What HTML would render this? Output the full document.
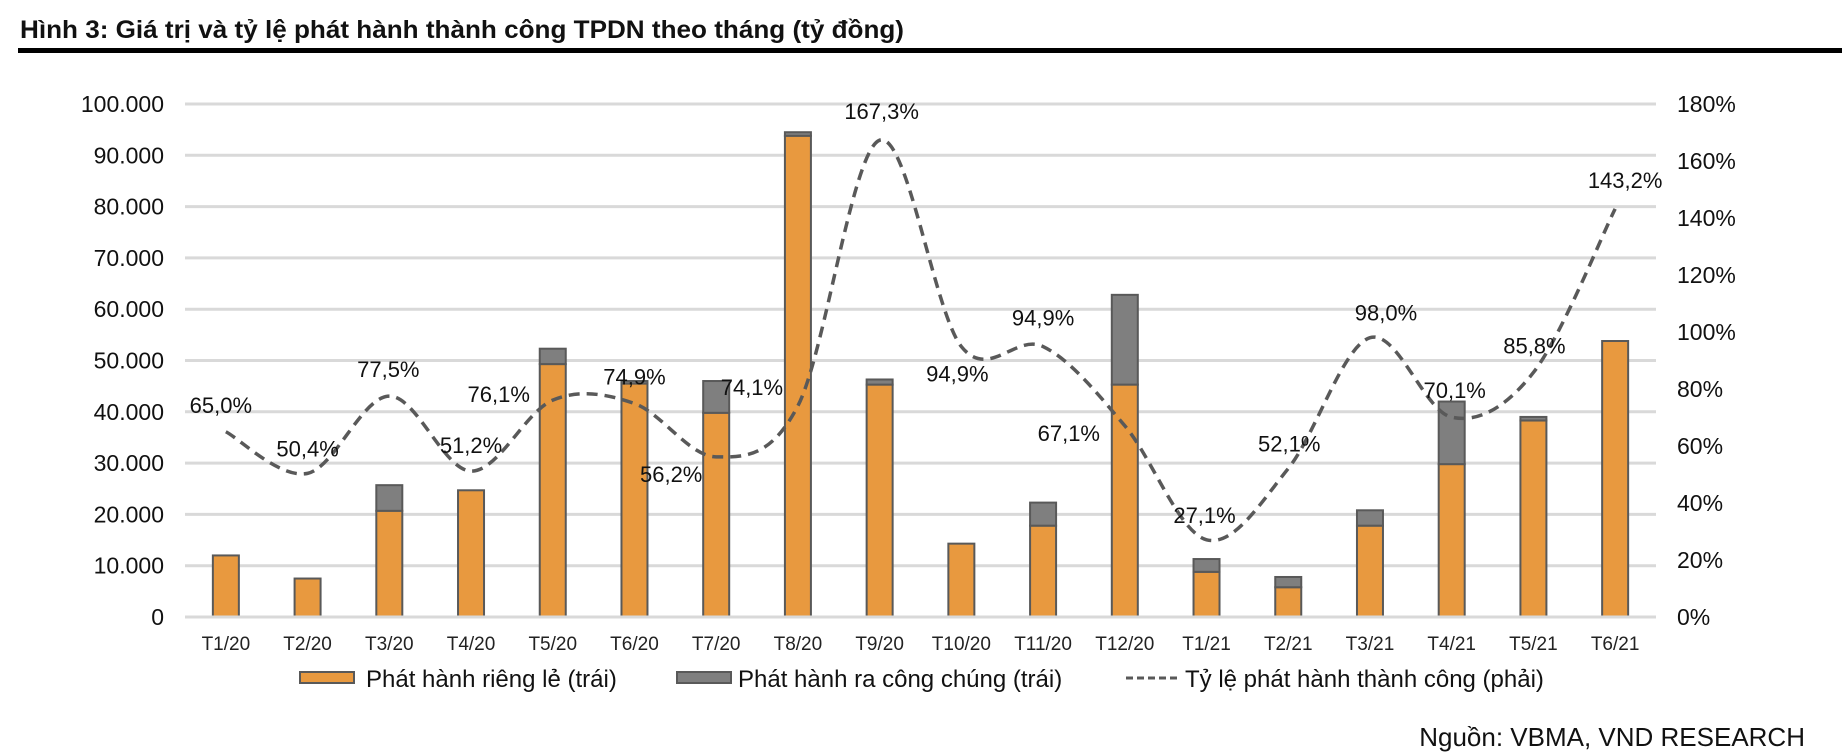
<!DOCTYPE html>
<html><head><meta charset="utf-8"><style>
body{margin:0;background:#fff;}
svg{display:block;font-family:"Liberation Sans",sans-serif;}
</style></head><body>
<svg id="chart" width="1842" height="754" viewBox="0 0 1842 754" xmlns="http://www.w3.org/2000/svg">
<text x="20" y="38" font-size="25" font-weight="bold" fill="#111" textLength="884" lengthAdjust="spacingAndGlyphs">Hình 3: Giá trị và tỷ lệ phát hành thành công TPDN theo tháng (tỷ đồng)</text>
<rect x="18" y="48" width="1824" height="5" fill="#000"/>
<g id="grid"></g><g id="bars"></g><g id="line"></g><g id="labels"></g><g id="axes"></g>
<g>
 <rect x="300" y="672" width="54" height="11" fill="#E8993F" stroke="#595959" stroke-width="2"/>
 <text x="366" y="687" font-size="24" fill="#111">Phát hành riêng lẻ (trái)</text>
 <rect x="677" y="672" width="54" height="11" fill="#7F7F7F" stroke="#595959" stroke-width="2"/>
 <text x="738" y="687" font-size="24" fill="#111">Phát hành ra công chúng (trái)</text>
 <line x1="1126" y1="678" x2="1178" y2="678" stroke="#595959" stroke-width="3" stroke-dasharray="7,4"/>
 <text x="1185" y="687" font-size="24" fill="#111">Tỷ lệ phát hành thành công (phải)</text>
</g>
<text x="1805" y="746" font-size="26" fill="#111" text-anchor="end">Nguồn: VBMA, VND RESEARCH</text>
</svg>
<script>
const categories=["T1/20","T2/20","T3/20","T4/20","T5/20","T6/20","T7/20","T8/20","T9/20","T10/20","T11/20","T12/20","T1/21","T2/21","T3/21","T4/21","T5/21","T6/21"];
const privateVals=[12000,7500,20700,24700,49300,45500,39800,93800,45300,14300,17800,45300,8800,5800,17800,29800,38300,53800];
const publicVals=[0,0,5000,0,3000,500,6200,700,1000,0,4500,17500,2500,2000,3000,12200,700,0];
const rateVals=[65.0,50.4,77.5,51.2,76.1,74.9,56.2,74.1,167.3,94.9,94.9,67.1,27.1,52.1,98.0,70.1,85.8,143.2];
const rateLabels=["65,0%","50,4%","77,5%","51,2%","76,1%","74,9%","56,2%","74,1%","167,3%","94,9%","94,9%","67,1%","27,1%","52,1%","98,0%","70,1%","85,8%","143,2%"];
const leftTicks=[0,10000,20000,30000,40000,50000,60000,70000,80000,90000,100000];
const leftTickLabels=["0","10.000","20.000","30.000","40.000","50.000","60.000","70.000","80.000","90.000","100.000"];
const rightTicks=[0,20,40,60,80,100,120,140,160,180];
const rightTickLabels=["0%","20%","40%","60%","80%","100%","120%","140%","160%","180%"];
// label offsets (styling, px)
const lblOff=[[-5,-27],[0,-25],[-1,-27],[0,-26],[-54,-6],[0,-27],[-45,17],[-46,-19],[2,-29],[-4,27],[0,-29],[-56,7],[-2,-25],[1,-25],[16,-25],[3,-27],[1,-27],[10,-29]];
const NS="http://www.w3.org/2000/svg";
const X0=185,X1=1656,Y0=617,YT=104,band=(X1-X0)/categories.length,bw=26;
const xC=i=>X0+band*(i+0.5);
const yL=v=>Y0-(v/100000)*(Y0-YT);
const yR=v=>Y0-(v/180)*(Y0-YT);
function mk(tag,attrs,parent){const e=document.createElementNS(NS,tag);for(const k in attrs)e.setAttribute(k,attrs[k]);parent.appendChild(e);return e;}
const grid=document.getElementById('grid'),bars=document.getElementById('bars'),line=document.getElementById('line'),labels=document.getElementById('labels'),axes=document.getElementById('axes');
leftTicks.forEach((t,i)=>{
 const g=mk('line',{x1:X0,x2:X1,y1:yL(t),y2:yL(t),stroke:'#D9D9D9','stroke-width':3},grid);
 
 
 const tx=mk('text',{x:164,y:yL(t)+8,'font-size':23,'text-anchor':'end',fill:'#111'},axes);
 tx.textContent=leftTickLabels[i];
 
 
});
rightTicks.forEach((t,i)=>{
 const tx=mk('text',{x:1677,y:yR(t)+8,'font-size':23,fill:'#111'},axes);
 tx.textContent=rightTickLabels[i];
 
 
});
categories.forEach((c,i)=>{
 const x=xC(i);
 const p=mk('rect',{x:x-bw/2,y:yL(privateVals[i]),width:bw,height:Y0-yL(privateVals[i]),fill:'#E8993F',stroke:'#595959','stroke-width':2},bars);
 
 
 if(publicVals[i]>0){
  const top=yL(privateVals[i]+publicVals[i]);
  const q=mk('rect',{x:x-bw/2,y:top,width:bw,height:yL(privateVals[i])-top,fill:'#7F7F7F',stroke:'#595959','stroke-width':2},bars);
  
  
 }
 const tx=mk('text',{x:x,y:650,'font-size':19,'text-anchor':'middle',fill:'#222'},axes);
 tx.textContent=c;
 
 
});
mk('line',{x1:X0,x2:X1,y1:Y0,y2:Y0,stroke:'#D9D9D9','stroke-width':3},axes);
// smooth line (Catmull-Rom)
const pts=rateVals.map((v,i)=>[xC(i),yR(v)]);
let d=`M${pts[0][0]},${pts[0][1]}`;
for(let i=0;i<pts.length-1;i++){
 const p0=pts[Math.max(0,i-1)],p1=pts[i],p2=pts[i+1],p3=pts[Math.min(pts.length-1,i+2)];
 const c1=[p1[0]+(p2[0]-p0[0])/6,p1[1]+(p2[1]-p0[1])/6],c2=[p2[0]-(p3[0]-p1[0])/6,p2[1]-(p3[1]-p1[1])/6];
 d+=` C${c1[0]},${c1[1]} ${c2[0]},${c2[1]} ${p2[0]},${p2[1]}`;
}
const path=mk('path',{d:d,fill:'none',stroke:'#595959','stroke-width':3.5,'stroke-dasharray':'11,7'},line);


rateVals.forEach((v,i)=>{
 const tx=mk('text',{x:xC(i)+lblOff[i][0],y:yR(v)+lblOff[i][1]+8,'font-size':22,'text-anchor':'middle',fill:'#111'},labels);
 tx.textContent=rateLabels[i];
 
 
});
</script>
</body></html>
